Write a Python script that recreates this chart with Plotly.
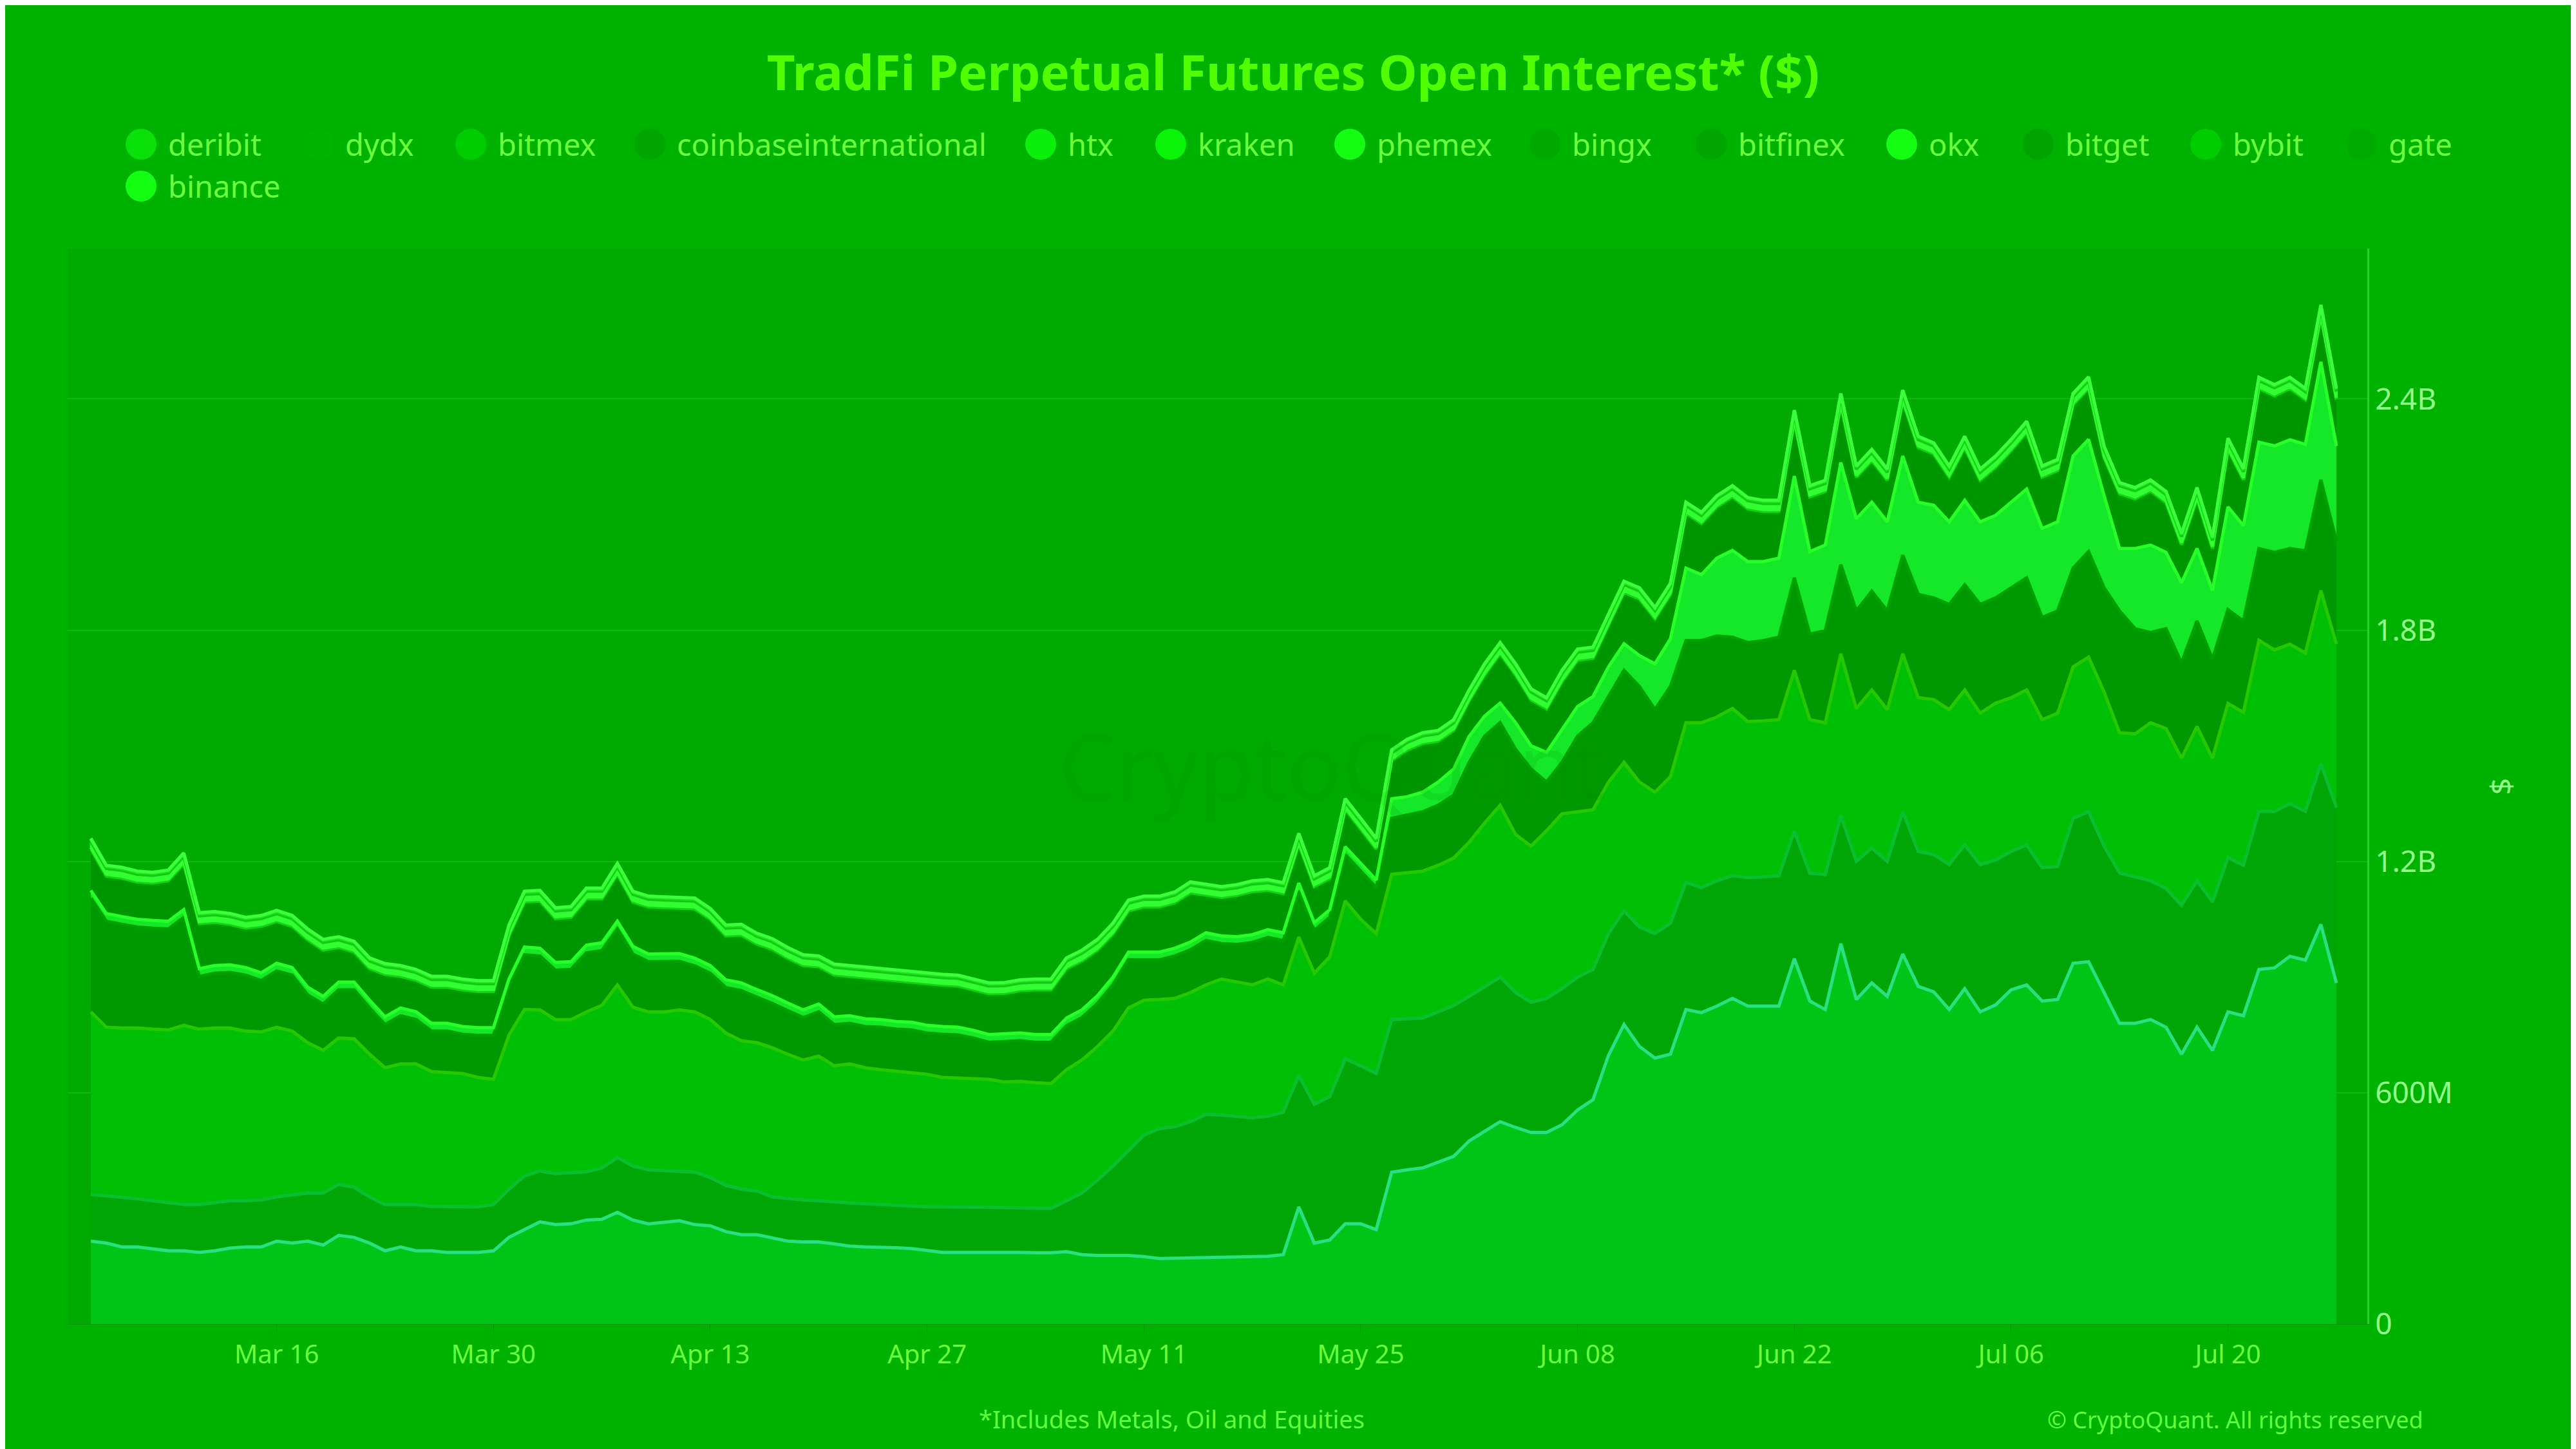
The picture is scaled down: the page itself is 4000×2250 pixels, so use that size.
import numpy as np
import pandas as pd
import plotly.graph_objects as go

dates = pd.date_range("2025-03-04", periods=146, freq="D")

# cumulative stack levels (USD billions)
lvl_binance = [0.215,0.21,0.20,0.20,0.195,0.19,0.19,0.186,0.19,0.197,
 0.20,0.20,0.215,0.21,0.215,0.205,0.23,0.225,0.21,0.19,
 0.20,0.19,0.19,0.186,0.186,0.186,0.19,0.225,0.245,0.265,
 0.258,0.26,0.27,0.272,0.29,0.27,0.26,0.265,0.268,0.258,
 0.255,0.24,0.232,0.232,0.224,0.215,0.213,0.213,0.208,0.202,
 0.20,0.20,0.198,0.196,0.19,0.186,0.186,0.186,0.187,0.188,
 0.186,0.185,0.185,0.188,0.18,0.178,0.178,0.178,0.175,0.17,
 0.171,0.172,0.173,0.174,0.174,0.174,0.176,0.18,
 0.304,0.21,0.218,0.26,0.26,0.245,0.394,0.40,0.405,0.42,
 0.435,0.475,0.50,0.525,0.51,0.497,0.497,0.517,0.555,0.582,
 0.697,0.777,0.72,0.69,0.70,0.816,0.808,0.825,0.845,0.825,
 0.825,0.825,0.948,0.838,0.816,0.987,0.842,0.885,0.85,0.96,
 0.876,0.862,0.816,0.87,0.81,0.828,0.867,0.88,0.838,0.842,
 0.936,0.94,0.86,0.78,
 0.78,0.79,0.77,0.70,0.77,0.71,0.81,0.80,0.92,0.924,0.954,0.944,1.037,0.885]

lvl_gate = [0.336,0.333,0.33,0.325,0.32,0.315,0.31,0.31,0.315,0.32,
 0.32,0.322,0.33,0.335,0.34,0.34,0.362,0.355,0.33,0.31,
 0.31,0.31,0.305,0.304,0.304,0.304,0.31,0.35,0.384,0.397,
 0.39,0.392,0.395,0.405,0.432,0.41,0.40,0.398,0.396,0.394,
 0.38,0.36,0.35,0.345,0.33,0.325,0.322,0.32,0.316,0.314,
 0.312,0.31,0.307,0.305,0.304,0.304,0.304,0.304,0.303,0.302,
 0.301,0.30,0.30,0.32,0.34,0.373,0.41,0.45,0.49,0.507,
 0.512,0.525,0.544,0.542,0.539,0.535,0.539,0.55,
 0.645,0.57,0.59,0.688,0.67,0.65,0.79,0.792,0.794,0.81,
 0.826,0.85,0.875,0.9,0.86,0.835,0.845,0.87,0.90,0.92,
 1.013,1.072,1.03,1.013,1.04,1.146,1.132,1.15,1.163,1.158,
 1.16,1.163,1.278,1.17,1.166,1.32,1.2,1.235,1.2,1.329,
 1.226,1.218,1.192,1.243,1.192,1.204,1.226,1.243,1.184,1.187,
 1.312,1.329,1.24,1.17,
 1.16,1.15,1.13,1.086,1.15,1.095,1.21,1.19,1.33,1.33,1.35,1.33,1.454,1.34]

lvl_bybit = [0.81,0.77,0.768,0.768,0.765,0.763,0.775,0.765,0.768,0.768,
 0.76,0.758,0.77,0.76,0.73,0.71,0.742,0.74,0.70,0.665,
 0.675,0.675,0.655,0.652,0.65,0.64,0.635,0.75,0.816,0.815,
 0.79,0.79,0.81,0.827,0.88,0.822,0.81,0.81,0.815,0.81,
 0.79,0.755,0.735,0.73,0.717,0.70,0.685,0.695,0.67,0.675,
 0.665,0.66,0.655,0.652,0.648,0.64,0.638,0.636,0.635,0.628,
 0.63,0.626,0.624,0.66,0.685,0.72,0.76,0.82,0.84,0.842,
 0.845,0.86,0.88,0.895,0.888,0.88,0.895,0.88,
 1.004,0.91,0.953,1.098,1.05,1.013,1.167,1.17,1.175,1.19,
 1.209,1.25,1.3,1.346,1.27,1.24,1.28,1.324,1.33,1.334,
 1.406,1.457,1.406,1.38,1.42,1.56,1.56,1.575,1.597,1.563,
 1.565,1.568,1.696,1.568,1.56,1.739,1.597,1.645,1.594,1.739,
 1.625,1.62,1.594,1.645,1.585,1.611,1.625,1.645,1.568,1.585,
 1.705,1.73,1.64,1.534,
 1.531,1.56,1.545,1.468,1.55,1.468,1.61,1.587,1.774,1.749,1.764,1.741,1.903,1.764]

lvl_bitget = [1.105,1.045,1.037,1.03,1.027,1.025,1.055,0.902,0.91,0.912,
 0.905,0.891,0.916,0.905,0.854,0.83,0.867,0.867,0.82,0.777,
 0.8,0.79,0.76,0.76,0.752,0.749,0.749,0.875,0.958,0.955,
 0.918,0.92,0.963,0.969,1.025,0.96,0.94,0.94,0.941,0.929,
 0.91,0.873,0.865,0.848,0.832,0.813,0.795,0.81,0.777,0.78,
 0.772,0.77,0.765,0.763,0.755,0.752,0.75,0.742,0.731,0.733,
 0.735,0.731,0.731,0.774,0.795,0.832,0.88,0.945,0.945,0.945,
 0.955,0.971,0.995,0.987,0.985,0.99,1.003,0.995,
 1.124,1.021,1.055,1.218,1.175,1.132,1.312,1.32,1.329,1.346,
 1.372,1.457,1.525,1.56,1.491,1.44,1.406,1.457,1.525,1.56,
 1.628,1.696,1.654,1.594,1.654,1.773,1.773,1.785,1.782,1.768,
 1.773,1.782,1.936,1.79,1.799,1.97,1.85,1.901,1.85,1.995,
 1.893,1.884,1.867,1.918,1.867,1.884,1.91,1.936,1.833,1.85,
 1.961,2.004,1.91,1.85,
 1.804,1.794,1.804,1.715,1.824,1.725,1.853,1.824,2.012,2.002,2.012,2.006,2.19,2.031]

okx = [0.02]*84 + [0.051,0.048,0.051,0.06,0.068,0.068,0.052,0.051,0.069,0.06,
 0.077,0.086,0.077,0.068,0.077,0.069,0.08,0.119,0.124,0.188,
 0.171,0.202,0.225,0.21,0.205,0.205,0.264,0.214,0.222,0.265,
 0.239,0.231,0.231,0.257,0.239,0.24,0.214,0.219,0.214,0.214,
 0.222,0.23,0.231,0.231,0.291,0.291,0.239,0.162,
 0.208,0.227,0.198,0.208,0.188,0.178,0.267,0.247,0.276,0.276,0.282,0.276,0.306,0.247]

lvl_total = [1.26,1.19,1.185,1.175,1.172,1.178,1.222,1.067,1.07,1.065,
 1.055,1.06,1.073,1.06,1.025,0.998,1.005,0.993,0.95,0.935,
 0.93,0.92,0.902,0.902,0.895,0.891,0.891,1.035,1.123,1.125,
 1.08,1.083,1.131,1.131,1.195,1.123,1.11,1.108,1.108,1.105,
 1.078,1.035,1.037,1.014,1.0,0.977,0.958,0.955,0.934,0.93,
 0.926,0.922,0.918,0.915,0.912,0.907,0.905,0.895,0.885,0.886,
 0.893,0.895,0.895,0.95,0.97,0.998,1.04,1.10,1.11,1.11,
 1.121,1.147,1.14,1.135,1.14,1.15,1.153,1.145,
 1.273,1.163,1.184,1.363,1.312,1.26,1.49,1.517,1.534,1.54,
 1.568,1.645,1.713,1.768,1.713,1.648,1.625,1.696,1.751,1.756,
 1.842,1.927,1.91,1.859,1.922,2.132,2.106,2.149,2.175,2.144,
 2.137,2.137,2.371,2.175,2.189,2.414,2.226,2.269,2.218,2.423,
 2.303,2.286,2.226,2.303,2.218,2.252,2.295,2.342,2.226,2.243,
 2.414,2.457,2.277,2.183,
 2.17,2.19,2.16,2.051,2.17,2.041,2.298,2.219,2.456,2.437,2.456,2.427,2.644,2.427]

# small exchanges: roughly constant thin bands, as (value, days) runs
small_runs = {
    "bingx": [(0.004, 90), (0.005, 56)],
    "phemex": [(0.005, 146)],
    "kraken": [(0.006, 90), (0.007, 56)],
    "htx": [(0.006, 146)],
    "coinbaseinternational": [(0.003, 146)],
    "bitmex": [(0.005, 146)],
    "dydx": [(0.002, 146)],
    "deribit": [(0.001, 146)],
}

legend_order = ["deribit","dydx","bitmex","coinbaseinternational","htx","kraken",
                "phemex","bingx","bitfinex","okx","bitget","bybit","gate","binance"]

def expand(runs):
    out = []
    for v, n in runs:
        out += [v]*n
    return np.array(out)

small = {k: expand(v) for k, v in small_runs.items()}
small_sum = sum(small.values())
B = lambda a: np.array(a)
vals = {
    "binance": B(lvl_binance),
    "gate": B(lvl_gate) - B(lvl_binance),
    "bybit": B(lvl_bybit) - B(lvl_gate),
    "bitget": B(lvl_bitget) - B(lvl_bybit),
    "okx": B(okx),
    "bitfinex": B(lvl_total) - B(lvl_bitget) - B(okx) - small_sum,
}
vals.update(small)

style = {  # fill, line, legend marker
    "binance": ("rgb(0,196,22)", "rgb(40,225,130)", "rgb(20,255,20)"),
    "gate": ("rgb(0,166,6)", "rgb(10,190,50)", "rgb(0,170,0)"),
    "bybit": ("rgb(0,192,6)", "rgb(40,200,0)", "rgb(0,205,0)"),
    "bitget": ("rgb(0,152,0)", "rgb(0,160,0)", "rgb(0,162,0)"),
    "okx": ("rgb(20,232,40)", "rgb(40,255,40)", "rgb(20,255,20)"),
    "bitfinex": ("rgb(0,150,0)", "rgb(0,158,0)", "rgb(0,165,0)"),
    "bingx": ("rgb(0,170,0)", "rgb(20,210,20)", "rgb(0,168,0)"),
    "phemex": ("rgb(30,240,30)", "rgb(50,255,50)", "rgb(20,255,20)"),
    "kraken": ("rgb(30,235,30)", "rgb(50,255,50)", "rgb(10,245,10)"),
    "htx": ("rgb(30,230,30)", "rgb(50,250,50)", "rgb(10,240,10)"),
    "coinbaseinternational": ("rgb(0,160,0)", "rgb(20,200,20)", "rgb(0,165,0)"),
    "bitmex": ("rgb(0,200,0)", "rgb(30,230,30)", "rgb(0,205,0)"),
    "dydx": ("rgb(0,180,0)", "rgb(30,220,30)", "rgb(0,180,0)"),
    "deribit": ("rgb(20,230,20)", "rgb(60,255,60)", "rgb(10,225,10)"),
}

fig = go.Figure()
for name in legend_order[::-1]:
    f, l, m = style[name]
    fig.add_trace(go.Scatter(x=dates, y=vals[name]*1e9, name=name, stackgroup="one",
                             mode="lines", line=dict(color=l, width=5), fillcolor=f,
                             showlegend=False))

# hand-placed legend (circle + label), positions in page pixels
W, H = 4000, 2250
ML, MR, MT, MB = 97, 332, 378, 202
PW, PH = W - ML - MR, H - MT - MB
legend_pos = [(219, 222), (494, 222), (731, 222), (1009, 222), (1616, 222), (1818, 222),
              (2096, 222), (2399, 222), (2657, 222), (2953, 222), (3165, 222), (3425, 222),
              (3667, 222), (219, 287)]
legend_pos = [(x - 8, y - 6) for x, y in legend_pos]
shapes, annots = [], []
for name, (px, py) in zip(legend_order, legend_pos):
    xp = (px - ML) / PW
    yp = (H - MB - py) / PH
    shapes.append(dict(type="circle", xref="paper", yref="paper", xsizemode="pixel",
                       ysizemode="pixel", xanchor=xp, yanchor=yp, x0=-24, x1=24, y0=-24, y1=24,
                       fillcolor=style[name][2], line=dict(width=0)))
    annots.append(dict(text=name, xref="paper", yref="paper", x=xp + 40 / PW, y=yp,
                       xanchor="left", yanchor="middle", showarrow=False,
                       font=dict(size=47, color="rgb(110,255,60)")))

tickv = pd.date_range("2025-03-16", "2025-07-20", freq="14D")
fig.update_layout(
    width=W, height=H, showlegend=False,
    paper_bgcolor="rgb(0,178,0)", plot_bgcolor="rgb(0,170,0)",
    font=dict(family="Noto Sans", color="rgb(120,255,80)"),
    margin=dict(l=ML, r=MR, t=MT, b=MB),
    title=dict(text="<b>TradFi Perpetual Futures Open Interest* ($)</b>", x=0.5, xanchor="center",
               y=0.965, yanchor="top", font=dict(size=76, color="rgb(80,255,0)")),
    xaxis=dict(range=[pd.Timestamp("2025-03-02 12:00"), pd.Timestamp("2025-07-29")],
               tickvals=tickv, tickformat="%b %d", showgrid=False, zeroline=False,
               tickfont=dict(size=40, color="rgb(110,255,60)"), ticks="outside",
               ticklen=12, tickcolor="rgb(0,150,0)", showline=True, linecolor="rgb(0,150,0)"),
    yaxis=dict(side="right", range=[0, 2.79e9], tickvals=[0, 0.6e9, 1.2e9, 1.8e9, 2.4e9],
               ticktext=["0", "600M", "1.2B", "1.8B", "2.4B"], showgrid=True,
               gridcolor="rgba(60,230,60,0.25)", gridwidth=2, zeroline=False,
               showline=True, linecolor="rgb(40,210,40)", linewidth=3,
               tickfont=dict(size=46, color="rgb(150,255,140)"),
               title=dict(text="$", font=dict(size=46, color="rgb(150,255,140)"), standoff=60)),
    shapes=shapes,
    annotations=annots + [
        dict(text="*Includes Metals, Oil and Equities", xref="paper", yref="paper", x=0.48, y=-0.105,
             showarrow=False, font=dict(size=38, color="rgb(100,255,60)")),
        dict(text="© CryptoQuant. All rights reserved", xref="paper", yref="paper", x=1.025, y=-0.105,
             xanchor="right", showarrow=False, font=dict(size=36, color="rgb(100,255,60)")),
        dict(text="CryptoQuant", xref="paper", yref="paper", x=0.55, y=0.52, showarrow=False,
             font=dict(size=140, color="rgba(0,140,0,0.12)")),
    ],
)
fig.write_html("out.html")
